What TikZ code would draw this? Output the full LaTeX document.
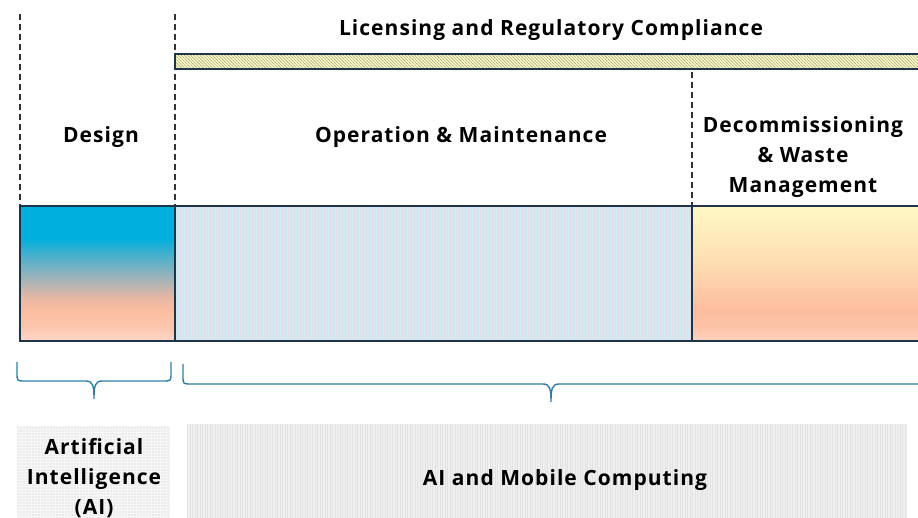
\documentclass[tikz,border=0pt]{standalone}
\usepackage{fontspec}
\setmainfont{Open Sans}[LetterSpace=5.0]
\usetikzlibrary{patterns.meta}
\definecolor{edge}{HTML}{1E3447}
\definecolor{dashc}{HTML}{333333}
\definecolor{bracec}{HTML}{2C7FA9}
\definecolor{hatchbg}{HTML}{FFFFC4}
\definecolor{hatchfg}{HTML}{A6A68A}
\definecolor{omfill}{HTML}{D3EAF4}
\definecolor{omline}{HTML}{E4DCE4}
\definecolor{mobfill}{HTML}{F0F0F0}
\definecolor{mobline}{HTML}{E2E2E2}
\definecolor{aifill}{HTML}{F7F7F7}
\definecolor{aidot}{HTML}{C8C8C8}
\definecolor{dsA}{HTML}{FED7C9}
\definecolor{dsB}{HTML}{FDC7AF}
\definecolor{dsC}{HTML}{FCBD9F}
\definecolor{dsD}{HTML}{E8B8A5}
\definecolor{dsE}{HTML}{8EB2BE}
\definecolor{dsF}{HTML}{3AAFCF}
\definecolor{dsG}{HTML}{00AFDD}
\definecolor{dcA}{HTML}{FED3C2}
\definecolor{dcB}{HTML}{FDC3A8}
\definecolor{dcC}{HTML}{FCBD9F}
\definecolor{dcD}{HTML}{FDD6AE}
\definecolor{dcE}{HTML}{FEE9B8}
\definecolor{dcF}{HTML}{FFF9C6}
\pgfdeclareverticalshading{designshade}{100bp}{
  color(0bp)=(dsA);
  color(25bp)=(dsA);
  color(30bp)=(dsB);
  color(36bp)=(dsC);
  color(41bp)=(dsD);
  color(50bp)=(dsE);
  color(58bp)=(dsF);
  color(63bp)=(dsG);
  color(75bp)=(dsG);
  color(100bp)=(dsG)}
\pgfdeclareverticalshading{decomshade}{100bp}{
  color(0bp)=(dcA);
  color(25bp)=(dcA);
  color(30bp)=(dcB);
  color(37bp)=(dcC);
  color(50bp)=(dcD);
  color(62bp)=(dcE);
  color(75bp)=(dcF);
  color(100bp)=(dcF)}
\tikzset{
  box/.style={draw=edge,line width=1.4pt,anchor=north west,inner sep=0pt,outer sep=0pt},
  label/.style={font=\fontsize{21}{30}\selectfont\bfseries,text=black,align=center,inner sep=0pt},
  divider/.style={draw=dashc,line width=1.3pt,dash pattern=on 6pt off 4pt},
  bracepath/.style={draw=bracec,line width=1.4pt}
}
\begin{document}
\begin{tikzpicture}[x=1pt,y=-1pt]
\useasboundingbox (0,0) rectangle (918,518);
\clip (0,0) rectangle (918,518);
% dashed dividers
\coordinate (d1t) at (20,14);
\coordinate (d1b) at (20,206);
\coordinate (d2t) at (175,14);
\coordinate (d2b) at (175,206);
\coordinate (d3t) at (692,72);
\coordinate (d3b) at (692,206);
\draw[divider] (d1t) -- (d1b);
\draw[divider] (d2t) -- (d2b);
\draw[divider] (d3t) -- (d3b);
% hatched bar
\node[box,line width=1.2pt,minimum width=760pt,minimum height=15pt,
  preaction={fill=hatchbg},
  pattern={Lines[angle=-45,distance=2.2pt,line width=0.6pt]},pattern color=hatchfg] (bar) at (175,54) {};
\node[label] (lic) at (551,30) {Licensing and Regulatory Compliance};
% phase boxes
\node[box,minimum width=155pt,minimum height=135pt,shading=designshade] (design) at (20,206) {};
\node[box,minimum width=517pt,minimum height=135pt,
  preaction={fill=omfill},
  pattern={Lines[angle=90,distance=3pt,line width=0.5pt]},pattern color=omline] (om) at (175,206) {};
\node[box,minimum width=260pt,minimum height=135pt,shading=decomshade] (decom) at (692,206) {};
% phase labels
\node[label] (ldesign) at (101,137) {Design};
\node[label] (lom) at (461,137) {Operation \& Maintenance};
\node[label] (ldecom) at (803,157) {Decommissioning\\\& Waste\\Management};
% braces
\coordinate (b1l) at (17,362);
\coordinate (b1r) at (171,362);
\coordinate (b1tip) at (94,399);
\draw[bracepath] (b1l) -- (17,373) .. controls (17,381) .. (25,381) -- (86,381)
  .. controls (93,381) and (94,386) .. (b1tip)
  .. controls (94,386) and (95,381) .. (102,381) -- (163,381)
  .. controls (171,381) .. (171,373) -- (b1r);
\coordinate (b2l) at (183,364);
\coordinate (b2r) at (930,364);
\coordinate (b2tip) at (551,402);
\draw[bracepath] (b2l) -- (183,376) .. controls (183,384) .. (191,384) -- (543,384)
  .. controls (550,384) and (551,389) .. (b2tip)
  .. controls (551,389) and (552,384) .. (559,384) -- (930,384);
% technology boxes
\node[box,draw=none,minimum width=153pt,minimum height=100pt,
  preaction={fill=aifill},
  pattern={Dots[distance=3pt,radius=0.55pt]},pattern color=aidot] (ai) at (17,426) {};
\node[box,draw=none,minimum width=720pt,minimum height=100pt,
  preaction={fill=mobfill},
  pattern={Lines[angle=90,distance=2.5pt,line width=0.6pt]},pattern color=mobline] (mob) at (187,424) {};
\node[label] (lai) at (94,478) {Artificial\\Intelligence\\(AI)};
\node[label] (lmob) at (565,480) {AI and Mobile Computing};
\end{tikzpicture}
\end{document}
